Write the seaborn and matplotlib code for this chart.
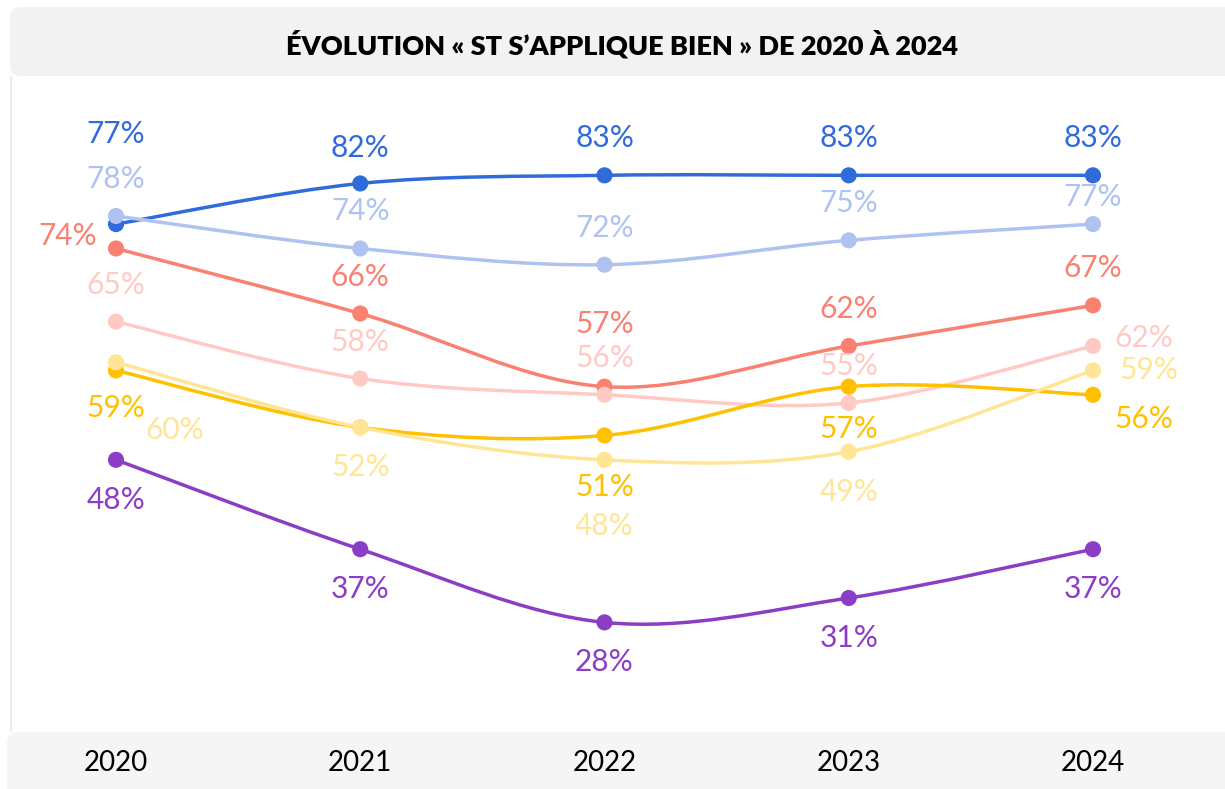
import numpy as np
import pandas as pd
import seaborn as sns
import matplotlib
matplotlib.use("Agg")
import matplotlib.pyplot as plt
from matplotlib.path import Path
from matplotlib.patches import PathPatch, FancyBboxPatch
from matplotlib.lines import Line2D
from matplotlib.transforms import IdentityTransform

# ---- data -------------------------------------------------------------
years = ["2020", "2021", "2022", "2023", "2024"]

serie_bleu_fonce = [77, 82, 83, 83, 83]
serie_bleu_clair = [78, 74, 72, 75, 77]
serie_saumon = [74, 66, 57, 62, 67]
serie_rose = [65, 58, 56, 55, 62]
serie_or = [59, 52, 51, 57, 56]
serie_jaune_clair = [60, 52, 48, 49, 59]
serie_violet = [48, 37, 28, 31, 37]

title = "ÉVOLUTION « ST S\u2019APPLIQUE BIEN » DE 2020 À 2024"

# ---- styling ----------------------------------------------------------
series = [
    ("bleu_fonce", serie_bleu_fonce, "#2F6BDB"),
    ("bleu_clair", serie_bleu_clair, "#AEC3F0"),
    ("saumon", serie_saumon, "#FA8070"),
    ("rose", serie_rose, "#FFCAC4"),
    ("or", serie_or, "#FFC000"),
    ("jaune_clair", serie_jaune_clair, "#FFE596"),
    ("violet", serie_violet, "#8B3DC5"),
]

# label placement (pixel offsets from the marker, +y = downwards)
default_side = {"bleu_fonce": -37, "bleu_clair": -37, "saumon": -37, "rose": -37,
                "or": 40, "jaune_clair": 40, "violet": 40}
label_offsets = {
    ("bleu_fonce", 0): (0, -90), ("bleu_fonce", 1): (0, -35),
    ("bleu_clair", 4): (0, -27),
    ("saumon", 0): (-48, -12), ("saumon", 2): (0, -63),
    ("rose", 4): (51, -8),
    ("or", 0): (0, 38), ("or", 2): (0, 52), ("or", 3): (0, 42), ("or", 4): (51, 24),
    ("jaune_clair", 0): (59, 68), ("jaune_clair", 2): (0, 66), ("jaune_clair", 4): (56, 0),
}
hidden_labels = {("or", 1)}

sns.set_theme(style="white")
plt.rcParams["font.family"] = ["Lato", "DejaVu Sans"]

W, H, DPI = 1225, 789, 100
fig = plt.figure(figsize=(W / DPI, H / DPI), dpi=DPI)
fig.patch.set_facecolor("white")

# header band, bottom band and thin left rule (pixel coordinates)
header = FancyBboxPatch((10, H - 76), W + 20, 69,
                        boxstyle="round,pad=0,rounding_size=11",
                        transform=IdentityTransform(), facecolor="#F2F2F2",
                        edgecolor="none", zorder=-5)
footer = FancyBboxPatch((7, -15), W + 20, H - 732 + 15,
                        boxstyle="round,pad=0,rounding_size=11",
                        transform=IdentityTransform(), facecolor="#F5F5F5",
                        edgecolor="none", zorder=-5)
rule = Line2D([10.5, 10.5], [H - 77, H - 731], transform=IdentityTransform(),
              color="#EBEBEB", linewidth=1.6, zorder=-5)
fig.add_artist(header)
fig.add_artist(footer)
fig.add_artist(rule)

fig.text(622 / W, 1 - 44 / H, title, ha="center", va="center",
         fontsize=19.5, fontweight="heavy", color="black")

ax = fig.add_axes([0, 0, 1, 1])
ax.set_zorder(2)
ax.patch.set_alpha(0)
ax.set_xlim(-0.4749, 4.5405)
ax.set_ylim(7.5, 104.57)
ax.axis("off")

x = np.arange(len(years))


def smooth_path(xs, ys):
    """Cubic Bezier path through the points (Catmull-Rom tangents)."""
    p = np.column_stack([xs, ys]).astype(float)
    n = len(p)
    verts = [p[0]]
    codes = [Path.MOVETO]
    for i in range(n - 1):
        p0 = p[i - 1] if i > 0 else p[i]
        p1, p2 = p[i], p[i + 1]
        p3 = p[i + 2] if i + 2 < n else p[i + 1]
        c1 = p1 + (p2 - p0) / 6.0
        c2 = p2 - (p3 - p1) / 6.0
        verts += [c1, c2, p2]
        codes += [Path.CURVE4] * 3
    return Path(verts, codes)


for k, (name, vals, col) in enumerate(series):
    df = pd.DataFrame({"annee": x, "valeur": vals})
    patch = PathPatch(smooth_path(df["annee"], df["valeur"]), facecolor="none",
                      edgecolor=col, linewidth=2.5, capstyle="round",
                      zorder=3 + 2 * k)
    ax.add_patch(patch)
    sns.scatterplot(data=df, x="annee", y="valeur", ax=ax, color=col, s=135,
                    edgecolor="none", linewidth=0, zorder=4 + 2 * k, legend=False)
    for i, v in enumerate(vals):
        if (name, i) in hidden_labels:
            continue
        dx, dy = label_offsets.get((name, i), (0, default_side[name]))
        ax.annotate(f"{v}%", (x[i], v), xytext=(dx, -dy), textcoords="offset pixels",
                    ha="center", va="center", fontsize=21.5, color=col,
                    fontweight="normal", zorder=20)

ax.set_xlabel("")
ax.set_ylabel("")

for i, yr in enumerate(years):
    ax.text(x[i], 1 - 763 / H, yr, transform=ax.get_xaxis_transform(),
            ha="center", va="center", fontsize=20, color="black", zorder=20)

fig.savefig("out.png", dpi=DPI)
